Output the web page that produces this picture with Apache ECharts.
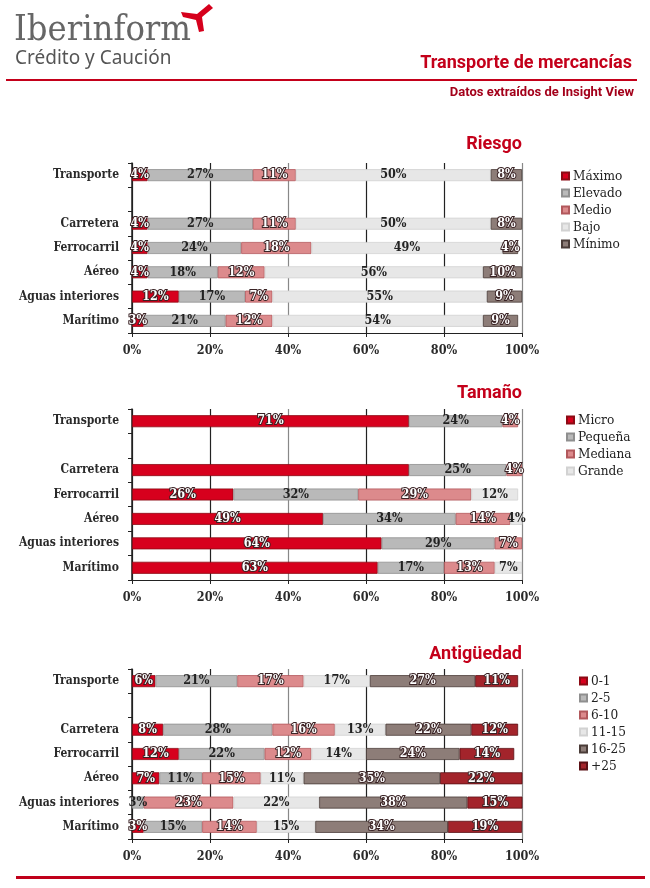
<!DOCTYPE html>
<html>
<head>
<meta charset="utf-8">
<script src="https://cdn.jsdelivr.net/npm/echarts@6/dist/echarts.min.js"></script>
<style>
html,body{margin:0;padding:0;background:#fff;}
#chart{width:650px;height:888px;}
</style>
</head>
<body>
<div id="chart"></div>
<script>
// ---------- DATA ----------
const categories = ['Transporte', '', 'Carretera', 'Ferrocarril', 'Aéreo', 'Aguas interiores', 'Marítimo'];
const xTicks = [0, 20, 40, 60, 80, 100];

// Riesgo
const riesgoNames = ['Máximo', 'Elevado', 'Medio', 'Bajo', 'Mínimo'];
const riesgoMaximo = [4, null, 4, 4, 4, 12, 3];
const riesgoElevado = [27, null, 27, 24, 18, 17, 21];
const riesgoMedio = [11, null, 11, 18, 12, 7, 12];
const riesgoBajo = [50, null, 50, 49, 56, 55, 54];
const riesgoMinimo = [8, null, 8, 4, 10, 9, 9];

// Tamaño
const tamanoNames = ['Micro', 'Pequeña', 'Mediana', 'Grande'];
const tamanoMicro = [71, null, 71, 26, 49, 64, 63];
const tamanoPequena = [24, null, 25, 32, 34, 29, 17];
const tamanoMediana = [4, null, 4, 29, 14, 7, 13];
const tamanoGrande = [null, null, null, 12, 4, null, 7];
const tamanoUnlabeled = [[0, 2]]; // [series index, row index] shown without label

// Antigüedad
const antNames = ['0-1', '2-5', '6-10', '11-15', '16-25', '+25'];
const ant0a1 = [6, null, 8, 12, 7, null, 3];
const ant2a5 = [21, null, 28, 22, 11, 3, 15];
const ant6a10 = [17, null, 16, 12, 15, 23, 14];
const ant11a15 = [17, null, 13, 14, 11, 22, 15];
const ant16a25 = [27, null, 22, 24, 35, 38, 34];
const antMas25 = [11, null, 12, 14, 22, 15, 19];

// ---------- STYLE ----------
const SERIF = '"DejaVu Serif Condensed", "DejaVu Serif", serif';
const NARROW = '"Liberation Sans Narrow", "Roboto", sans-serif';
const RED_TXT = '#c4001a';
const palette = {
  red:   {c: '#d7001d', b: '#8c0a14', light: false},
  gray:  {c: '#b9b9b9', b: '#8f8f8f', light: true},
  pink:  {c: '#dc8a8c', b: '#b2585c', light: false},
  pale:  {c: '#e7e7e7', b: '#d2d2d2', light: true},
  brown: {c: '#8d7d78', b: '#4a3c38', light: false},
  dred:  {c: '#a3242b', b: '#5a1015', light: false}
};

const grids = [
  {left: 132, width: 390, top: 163, height: 170},
  {left: 132, width: 390, top: 409, height: 171},
  {left: 132, width: 390, top: 669, height: 170}
];

function makeSeries(name, values, pal, gi, stack, unlabeledRows) {
  const data = values.map((v, i) => {
    if (v === null) return '-';
    if (unlabeledRows && unlabeledRows.indexOf(i) >= 0) return {value: v, label: {show: false}};
    return v;
  });
  return {
    type: 'bar', name: name, stack: stack, xAxisIndex: gi, yAxisIndex: gi,
    barWidth: 12, data: data,
    itemStyle: {color: pal.c, borderColor: pal.b, borderWidth: 0.8},
    label: {
      show: true, position: 'inside', formatter: p => p.value + '%',
      fontFamily: SERIF, fontSize: 12.5, fontWeight: 'bold',
      color: pal.light ? '#222' : '#fff',
      textBorderColor: pal.light ? 'transparent' : '#3a2325',
      textBorderWidth: pal.light ? 0 : 2
    },
    emphasis: {disabled: true}
  };
}

const series = [];
const riesgoVals = [riesgoMaximo, riesgoElevado, riesgoMedio, riesgoBajo, riesgoMinimo];
const riesgoPal = [palette.red, palette.gray, palette.pink, palette.pale, palette.brown];
riesgoNames.forEach((n, i) => series.push(makeSeries(n, riesgoVals[i], riesgoPal[i], 0, 'r')));

const tamanoVals = [tamanoMicro, tamanoPequena, tamanoMediana, tamanoGrande];
const tamanoPal = [palette.red, palette.gray, palette.pink, palette.pale];
tamanoNames.forEach((n, i) => {
  const rows = tamanoUnlabeled.filter(u => u[0] === i).map(u => u[1]);
  series.push(makeSeries(n, tamanoVals[i], tamanoPal[i], 1, 't', rows));
});

const antVals = [ant0a1, ant2a5, ant6a10, ant11a15, ant16a25, antMas25];
const antPal = [palette.red, palette.gray, palette.pink, palette.pale, palette.brown, palette.dred];
antNames.forEach((n, i) => series.push(makeSeries(n, antVals[i], antPal[i], 2, 'a')));

const xAxes = grids.map((g, i) => ({
  type: 'value', gridIndex: i, min: 0, max: 100, interval: 20,
  axisLine: {show: true, lineStyle: {color: '#222', width: 1.2}},
  axisTick: {show: true, length: 4, lineStyle: {color: '#222'}},
  axisLabel: {formatter: v => xTicks.indexOf(v) >= 0 ? v + '%' : '', fontFamily: SERIF, fontSize: 12.5,
              fontWeight: 'bold', color: '#2a2a2a', margin: 11},
  splitLine: {show: true, lineStyle: {color: ['#222', '#222', '#888', '#222', '#222', '#888'], width: 1.2}}
}));

const yAxes = grids.map((g, i) => ({
  type: 'category', gridIndex: i, data: categories, inverse: true,
  axisLine: {show: true, lineStyle: {color: '#222', width: 1.5}},
  axisTick: {show: true, length: 4, lineStyle: {color: '#222'}},
  axisLabel: {fontFamily: SERIF, fontSize: 12, fontWeight: 'bold', color: '#2a2a2a', margin: 13},
  splitLine: {show: false}
}));

const legendBase = {
  orient: 'vertical', icon: 'rect', itemWidth: 7, itemHeight: 7, itemGap: 3, padding: 0,
  textStyle: {fontFamily: SERIF, fontSize: 13.5, color: '#222', lineHeight: 13, padding: [0, 0, 0, -1]},
  selectedMode: false
};

const titleStyle = {fontFamily: NARROW, fontSize: 18, fontWeight: 'bold', color: RED_TXT};

const option = {
  animation: false,
  backgroundColor: '#fff',
  title: [
    {text: 'Riesgo', right: 128, top: 135, textStyle: titleStyle, padding: 0},
    {text: 'Tamaño', right: 128, top: 384, textStyle: titleStyle, padding: 0},
    {text: 'Antigüedad', right: 128, top: 645, textStyle: titleStyle, padding: 0}
  ],
  legend: [
    Object.assign({}, legendBase, {data: riesgoNames, left: 561, top: 169}),
    Object.assign({}, legendBase, {data: tamanoNames, left: 566, top: 413}),
    Object.assign({}, legendBase, {data: antNames, left: 579, top: 674})
  ],
  grid: grids,
  xAxis: xAxes,
  yAxis: yAxes,
  series: series,
  graphic: [
    {type: 'text', left: 14, top: 13, style: {text: 'Iberinform', font: '36px ' + SERIF, fill: '#666'}},
    {type: 'text', left: 15, top: 49, style: {text: 'Crédito y Caución', font: '19px "Noto Sans", sans-serif', fill: '#555'}},
    {type: 'polygon', shape: {points: [[209, 4], [213, 8], [202, 17], [204, 31], [199, 32], [196, 20], [183, 17], [181, 12], [197, 14]]},
     style: {fill: '#d6001c'}},
    {type: 'text', right: 18, top: 54, style: {text: 'Transporte de mercancías', font: 'bold 18px ' + NARROW, fill: RED_TXT}},
    {type: 'rect', shape: {x: 6, y: 79, width: 631, height: 2}, style: {fill: '#c4001a'}},
    {type: 'text', right: 16, top: 86, style: {text: 'Datos extraídos de Insight View', font: 'bold 13px ' + NARROW, fill: '#a3001a'}},
    {type: 'rect', shape: {x: 16, y: 876, width: 629, height: 3}, style: {fill: '#c0001a'}}
  ]
};

const chart = echarts.init(document.getElementById('chart'), null, {renderer: 'canvas'});
chart.setOption(option);
</script>
</body>
</html>
